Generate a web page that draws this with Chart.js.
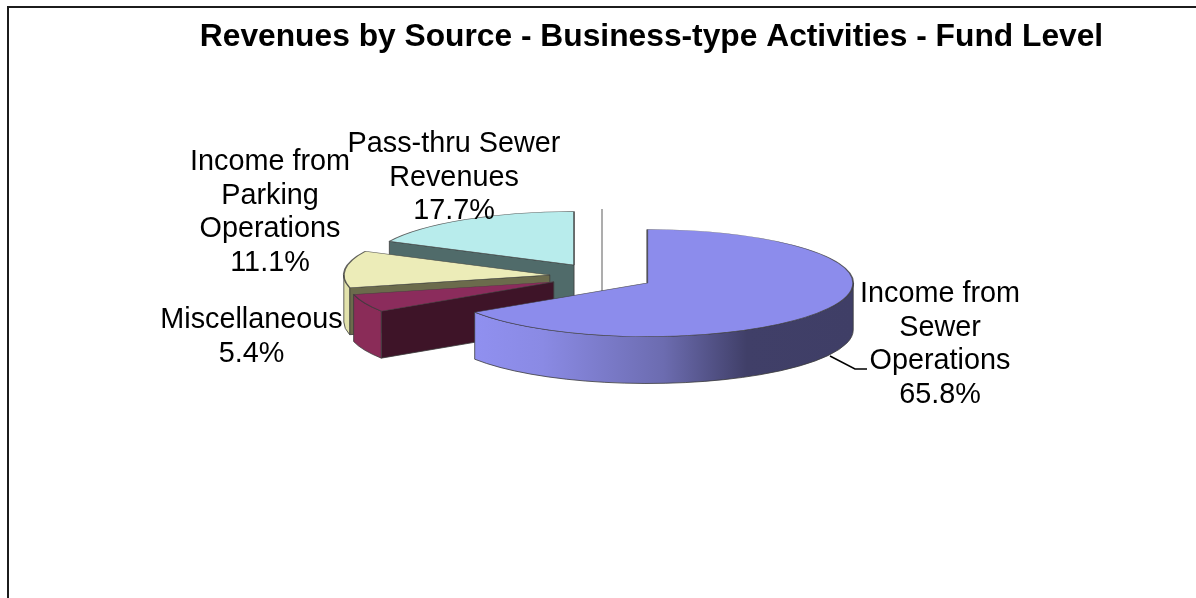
<!DOCTYPE html>
<html>
<head>
<meta charset="utf-8">
<title>Revenues by Source</title>
<script src="https://cdn.jsdelivr.net/npm/chart.js@4"></script>
<style>
  html, body { margin: 0; padding: 0; background: #fff; }
  #wrap { position: relative; width: 1196px; height: 598px; overflow: hidden; }
</style>
</head>
<body>
<div id="wrap"><canvas id="chart" width="1196" height="598"></canvas></div>
<script>
// Revenue shares, in percent, clockwise from twelve o'clock
const categories = ['Income from Sewer Operations', 'Miscellaneous', 'Income from Parking Operations', 'Pass-thru Sewer Revenues'];
const shares = [65.8, 5.4, 11.1, 17.7];

// Label text, one entry per line
const labelLines = [
  ['Income from', 'Sewer', 'Operations'],
  ['Miscellaneous'],
  ['Income from', 'Parking', 'Operations'],
  ['Pass-thru Sewer', 'Revenues']
];

// Slice paint: top face, straight cut face, rim
const topColors = ['#8c8cec', '#8b2c5c', '#ececb8', '#b8ecec'];
const cutColors = [null, '#3e1428', '#6b6b4c', '#506b6a'];
const rimColors = [null, '#8a2c58', '#e2e2ac', null];

// Projection of the pie disc onto the page
const PIE_X = 601.5, PIE_Y = 276.5, RADIUS = 206, TILT = 0.26, DEPTH = 47, EXPLODE = 52;
const EDGE = 'rgba(60,60,60,0.8)';

// Label anchors: centre x and first baseline
const labelAnchors = [[940, 302], [251.5, 328], [270, 170], [454, 152]];
const LINE_STEP = 33.6;

let discY = 0;
const toPageY = y => PIE_Y + (y - discY) * TILT;

function blueRim(ctx) {
  const g = ctx.createLinearGradient(474, 0, 853, 0);
  g.addColorStop(0, '#9090f0');
  g.addColorStop(0.18, '#8a8ae4');
  g.addColorStop(0.5, '#6c6cb0');
  g.addColorStop(0.72, '#403f68');
  g.addColorStop(1, '#3f3e66');
  return g;
}

function drawCut(ctx, arc, fill) {
  const px = arc.x, py = toPageY(arc.y);
  const tx = px + RADIUS * Math.cos(arc.startAngle);
  const ty = py + RADIUS * TILT * Math.sin(arc.startAngle);
  ctx.beginPath();
  ctx.moveTo(px, py);
  ctx.lineTo(tx, ty);
  ctx.lineTo(tx, ty + DEPTH);
  ctx.lineTo(px, py + DEPTH);
  ctx.closePath();
  ctx.fillStyle = fill;
  ctx.fill();
  ctx.stroke();
}

function drawRim(ctx, arc, fill) {
  const a0 = Math.max(arc.startAngle, 0);
  const a1 = Math.min(arc.endAngle, Math.PI);
  if (a1 <= a0) return;
  const px = arc.x, py = toPageY(arc.y), ry = RADIUS * TILT;
  ctx.beginPath();
  ctx.ellipse(px, py, RADIUS, ry, 0, a0, a1);
  ctx.ellipse(px, py + DEPTH, RADIUS, ry, 0, a1, a0, true);
  ctx.closePath();
  ctx.fillStyle = fill;
  ctx.fill();
  ctx.stroke();
}

const tiltedPie = {
  id: 'tiltedPie',
  // Pull every slice away from the centre along its own bisector
  afterDatasetsUpdate(chart) {
    const arcs = chart.getDatasetMeta(0).data;
    discY = (chart.chartArea.top + chart.chartArea.bottom) / 2;
    arcs.forEach(arc => {
      const mid = (arc.startAngle + arc.endAngle) / 2;
      arc.x = PIE_X + Math.cos(mid) * EXPLODE;
      arc.y = discY + Math.sin(mid) * EXPLODE;
    });
  },
  // Side walls go underneath, painted back to front, then the library's arcs are squashed on top
  beforeDatasetsDraw(chart) {
    const ctx = chart.ctx;
    const arcs = chart.getDatasetMeta(0).data;
    ctx.save();
    ctx.strokeStyle = '#999999';
    ctx.lineWidth = 1.6;
    ctx.beginPath();
    ctx.moveTo(602, 209);
    ctx.lineTo(602, 292);
    ctx.stroke();
    ctx.strokeStyle = EDGE;
    ctx.lineWidth = 1;
    for (let i = arcs.length - 1; i >= 0; i--) {
      if (cutColors[i]) drawCut(ctx, arcs[i], cutColors[i]);
      if (i === 0) drawRim(ctx, arcs[i], blueRim(ctx));
      else if (rimColors[i]) drawRim(ctx, arcs[i], rimColors[i]);
    }
    ctx.restore();
    ctx.save();
    ctx.translate(0, PIE_Y);
    ctx.scale(1, TILT);
    ctx.translate(0, -discY);
  },
  afterDatasetsDraw(chart) {
    chart.ctx.restore();
  },
  afterDraw(chart) {
    const ctx = chart.ctx;
    ctx.save();
    // Chart frame: only the top and left edges fall inside the page
    ctx.strokeStyle = '#1c1c1c';
    ctx.lineWidth = 2;
    ctx.beginPath();
    ctx.moveTo(8, 598);
    ctx.lineTo(8, 7);
    ctx.lineTo(1196, 7);
    ctx.stroke();
    // Leader line for the largest slice
    ctx.strokeStyle = '#000';
    ctx.lineWidth = 1.5;
    ctx.beginPath();
    ctx.moveTo(830, 356);
    ctx.lineTo(855, 369);
    ctx.lineTo(867, 369);
    ctx.stroke();
    // Category and percentage labels
    ctx.fillStyle = '#000';
    ctx.font = '28.8px "Liberation Sans", Arial, sans-serif';
    ctx.textAlign = 'center';
    ctx.textBaseline = 'alphabetic';
    labelLines.forEach((lines, i) => {
      const [x, y] = labelAnchors[i];
      const text = lines.concat(shares[i].toFixed(1) + '%');
      text.forEach((line, n) => ctx.fillText(line, x, y + n * LINE_STEP));
    });
    ctx.restore();
  }
};

new Chart(document.getElementById('chart'), {
  type: 'pie',
  plugins: [tiltedPie],
  data: {
    labels: categories,
    datasets: [{
      data: shares,
      backgroundColor: topColors,
      borderColor: EDGE,
      borderWidth: 1.8,
      clip: false
    }]
  },
  options: {
    responsive: false,
    animation: false,
    events: [],
    radius: RADIUS,
    layout: { padding: { left: 107 } },
    plugins: {
      legend: { display: false },
      tooltip: { enabled: false },
      title: {
        display: true,
        text: 'Revenues by Source - Business-type Activities - Fund Level',
        color: '#000',
        font: { family: '"Liberation Sans", Arial, sans-serif', size: 31.75, weight: 'bold' },
        padding: { top: 18, bottom: 10 }
      }
    }
  }
});
</script>
</body>
</html>
